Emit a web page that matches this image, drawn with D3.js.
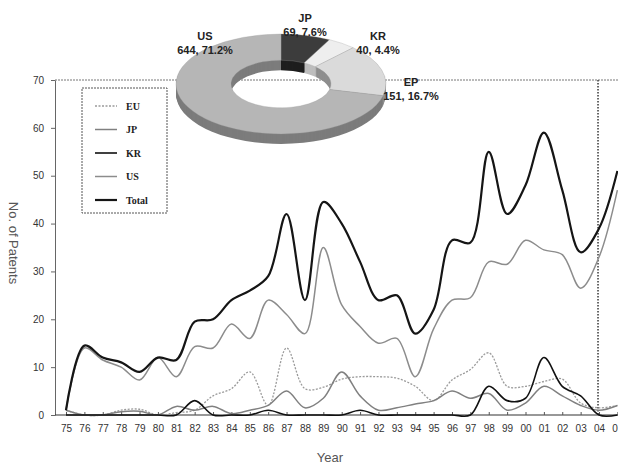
<!DOCTYPE html>
<html>
<head>
<meta charset="utf-8">
<script src="https://cdn.jsdelivr.net/npm/d3@7"></script>
<style>
    body { margin: 0; background: #fff; }
    svg { display: block; }
</style>
</head>
<body>
<div id="chart"></div>
<script>

// Data (1975 - 2005)
const years = d3.range(1975, 2006);
const yearLabels = ["75","76","77","78","79","80","81","82","83","84","85","86","87","88","89",
    "90","91","92","93","94","95","96","97","98","99","00","01","02","03","04","05"];

const euVals = [1,0,0,1,1.2,0,0.5,1,4,5.5,9,2,14,5.5,5.8,7.5,8,8,7.7,6,3,7.3,9.5,13,6,6,7,7.5,2.5,1.5,2];
const jpVals = [1,0,0,0.7,0.8,0,1.8,1,1.8,0.3,1,2,5,1.5,3.5,9,4,1,1.5,2.3,3,5,3.5,4.5,1,2.5,6,4,2,1,2];
const krVals = [0,0,0,0,0,0,0,3,0,0,0,1,0,0,0,0,1,0,0,0,0,0,0,6,3,3.5,12,6,4,0,0];
const usVals = [1,14,11.5,10,7.3,12,8,14.3,14,19,16,24,21,17,35,23,18.5,15,16,8,18,24,24.5,32,31.5,36.5,34.5,33.5,26.5,33,47];
const totalVals = [1,14.5,12,11,9,12,11.5,19.5,20,24,26,29,42,24,44.5,40,32,24,25,17,22,36.5,36,55,42,48,59,47,34,39,51];

const yTicks = [0,10,20,30,40,50,60,70];
const markYear = 2004;

// donut (share by office)
const pieNames = ["JP","KR","EP","US"];
const pieCounts = [69,40,151,644];
const piePcts = ["7.6%","4.4%","16.7%","71.2%"];

// series styling
const seriesNames = ["EU","JP","KR","US","Total"];
const seriesVals = [euVals, jpVals, krVals, usVals, totalVals];
const seriesStyle = {
    EU:    { color: "#9a9a9a", width: 1.3, dash: "2,1.5" },
    JP:    { color: "#808080", width: 1.5, dash: null },
    KR:    { color: "#111",    width: 1.6, dash: null },
    US:    { color: "#8c8c8c", width: 1.5, dash: null },
    Total: { color: "#151515", width: 2.2, dash: null }
};

const W = 618, H = 464;
const svg = d3.select("#chart").append("svg")
    .attr("width", W)
    .attr("height", H);

// Scales
const axisX = 55;
const x = d3.scaleLinear().domain([1975, 2005]).range([66, 617.4]);
const y = d3.scaleLinear().domain([0, 70]).range([415, 80]);

// top frame line (dotted) and vertical marker line
svg.append("line")
    .attr("x1", axisX).attr("x2", W + 5)
    .attr("y1", y(70)).attr("y2", y(70))
    .attr("stroke", "#777").attr("stroke-width", 1)
    .attr("stroke-dasharray", "2,1");

svg.append("line")
    .attr("x1", x(markYear) - 1).attr("x2", x(markYear) - 1)
    .attr("y1", y(70)).attr("y2", y(0))
    .attr("stroke", "#444").attr("stroke-width", 1.6)
    .attr("stroke-dasharray", "1.5,1.5");

// Y axis
const yAxis = d3.axisLeft(y)
    .tickValues(yTicks)
    .tickSize(4)
    .tickPadding(7)
    .tickSizeOuter(0);

svg.append("g")
    .attr("class", "y-axis")
    .attr("transform", "translate(" + axisX + ",0)")
    .call(yAxis)
    .call(g => g.select(".domain").attr("stroke", "#666"))
    .call(g => g.selectAll(".tick line").attr("stroke", "#666"))
    .call(g => g.selectAll("text")
        .attr("font-family", "'Liberation Sans', Arial, sans-serif")
        .attr("font-size", 10)
        .attr("fill", "#333"));

// X axis
const xAxis = d3.axisBottom(x)
    .tickValues(years)
    .tickFormat((d, i) => yearLabels[i])
    .tickSize(-3)
    .tickPadding(10)
    .tickSizeOuter(0);

svg.append("line")
    .attr("x1", axisX).attr("x2", W + 5)
    .attr("y1", y(0)).attr("y2", y(0))
    .attr("stroke", "#333").attr("stroke-width", 1.2);

svg.append("g")
    .attr("class", "x-axis")
    .attr("transform", "translate(0," + y(0) + ")")
    .call(xAxis)
    .call(g => g.select(".domain").remove())
    .call(g => g.selectAll(".tick line").attr("stroke", "#555"))
    .call(g => g.selectAll("text")
        .attr("font-family", "'Liberation Sans', Arial, sans-serif")
        .attr("font-size", 10)
        .attr("fill", "#333"));

// Axis titles
svg.append("text")
    .attr("transform", "translate(9,243) rotate(90)")
    .attr("text-anchor", "middle")
    .attr("font-family", "'Liberation Sans', Arial, sans-serif")
    .attr("font-size", 13)
    .attr("fill", "#555")
    .text("No. of Patents");

svg.append("text")
    .attr("x", 330).attr("y", 462)
    .attr("text-anchor", "middle")
    .attr("font-family", "'Liberation Sans', Arial, sans-serif")
    .attr("font-size", 13)
    .attr("fill", "#555")
    .text("Year");

// Lines
const line = d3.line()
    .x((d, i) => x(years[i]))
    .y(d => y(d))
    .curve(d3.curveCatmullRom.alpha(0.5));

const drawOrder = ["EU", "JP", "US", "KR", "Total"];
drawOrder.forEach(name => {
    const vals = seriesVals[seriesNames.indexOf(name)];
    const st = seriesStyle[name];
    svg.append("path")
        .datum(vals)
        .attr("class", "line " + name)
        .attr("fill", "none")
        .attr("stroke", st.color)
        .attr("stroke-width", st.width)
        .attr("stroke-dasharray", st.dash)
        .attr("d", line);
});

// Legend
const legend = svg.append("g").attr("class", "legend");
legend.append("rect")
    .attr("x", 82).attr("y", 88)
    .attr("width", 85).attr("height", 125)
    .attr("fill", "#fff")
    .attr("stroke", "#555")
    .attr("stroke-width", 1)
    .attr("stroke-dasharray", "2,1");

seriesNames.forEach((name, i) => {
    const st = seriesStyle[name];
    const ly = 106 + i * 23.5;
    legend.append("line")
        .attr("x1", 95).attr("x2", 117)
        .attr("y1", ly).attr("y2", ly)
        .attr("stroke", st.color)
        .attr("stroke-width", st.width)
        .attr("stroke-dasharray", st.dash);
    legend.append("text")
        .attr("x", 126).attr("y", ly + 3.5)
        .attr("font-family", "'Liberation Serif', 'Times New Roman', serif")
        .attr("font-weight", "bold")
        .attr("font-size", 10)
        .attr("fill", "#222")
        .text(name);
});

// 3D-looking donut drawn from stacked copies
const pieCx = 281, pieCy = 84, tilt = 0.476, depth = 10;
const pie = d3.pie().sort(null).value(d => d)(pieCounts);
const arc = d3.arc().innerRadius(50).outerRadius(105);
const topColors = { JP: "#3c3c3c", KR: "#eeeeee", EP: "#dadada", US: "#b6b6b6" };
const sideColors = { JP: "#1e1e1e", KR: "#bdbdbd", EP: "#8e8e8e", US: "#7c7c7c" };

const pieG = svg.append("g").attr("class", "donut");
for (let dy = depth; dy >= 0; dy--) {
    const layer = pieG.append("g")
        .attr("transform", "translate(" + pieCx + "," + (pieCy + dy) + ") scale(1," + tilt + ")");
    layer.selectAll("path")
        .data(pie)
        .enter().append("path")
        .attr("d", arc)
        .attr("fill", (d, i) => dy === 0 ? topColors[pieNames[i]] : sideColors[pieNames[i]])
        .attr("stroke", dy === 0 ? "#999" : "none")
        .attr("stroke-width", 0.4);
}

// Donut labels
const pieLabelPos = [[305, 22], [378, 40], [411, 86], [205, 40]];
pieNames.forEach((name, i) => {
    const p = pieLabelPos[i];
    const t = svg.append("text")
        .attr("x", p[0]).attr("y", p[1])
        .attr("text-anchor", "middle")
        .attr("font-family", "'Liberation Sans', Arial, sans-serif")
        .attr("font-weight", "bold")
        .attr("font-size", 11)
        .attr("fill", "#222");
    t.append("tspan").attr("x", p[0]).text(name);
    t.append("tspan").attr("x", p[0]).attr("dy", 14)
        .text(pieCounts[i] + ", " + piePcts[i]);
});

</script>
</body>
</html>
